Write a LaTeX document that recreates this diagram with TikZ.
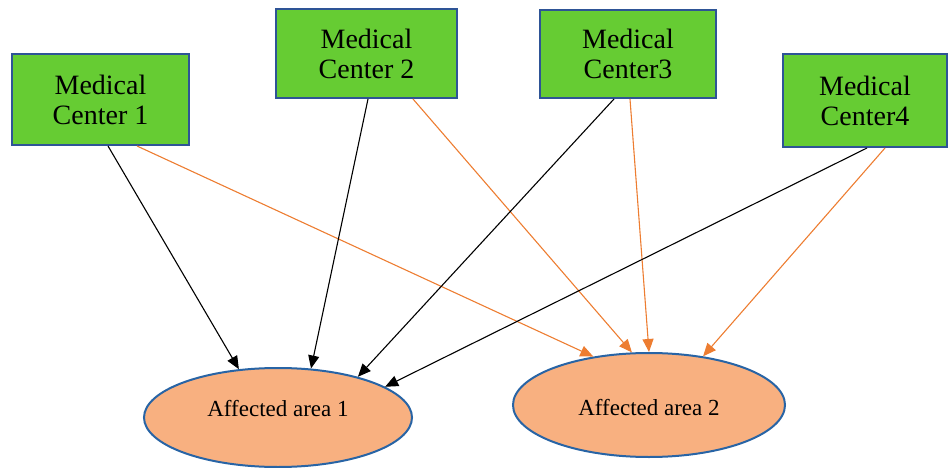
\documentclass[tikz,border=0pt]{standalone}
\usepackage{fontspec}
\setmainfont{Liberation Serif}
\usetikzlibrary{arrows.meta,shapes.geometric}
\definecolor{boxgreen}{RGB}{102,204,51}
\definecolor{boxblue}{RGB}{46,84,150}
\definecolor{ellfill}{RGB}{248,176,128}
\definecolor{ellblue}{RGB}{40,100,165}
\definecolor{arrorange}{RGB}{237,125,49}
\tikzset{
  center/.style={draw=boxblue, line width=2pt, fill=boxgreen, rectangle, inner sep=0pt,
    align=center, font=\fontsize{28}{30}\selectfont},
  area/.style={draw=ellblue, line width=2pt, fill=ellfill, ellipse, inner sep=0pt,
    font=\fontsize{23}{25}\selectfont},
  blk/.style={draw=black, line width=1.1pt, -{Triangle[length=13pt,width=11pt]}},
  org/.style={draw=arrorange, line width=1.1pt, -{Triangle[length=13pt,width=11pt]}, color=arrorange},
}
\begin{document}
\begin{tikzpicture}[x=1pt,y=-1pt]
\useasboundingbox (0,0) rectangle (951,468);
\node[center, minimum width=177pt, minimum height=91pt] (m1) at (100.5,99.5) {Medical\\Center 1};
\node[center, minimum width=181pt, minimum height=89pt] (m2) at (366.5,53.5) {Medical\\Center 2};
\node[center, minimum width=176pt, minimum height=88pt] (m3) at (628,54) {Medical\\Center3};
\node[center, minimum width=164pt, minimum height=93pt] (m4) at (865,100.5) {Medical\\Center4};
\node[area, minimum width=268pt, minimum height=99pt, text height=16pt, text depth=18pt] (a1) at (278,417.5) {Affected area 1};
\node[area, minimum width=272pt, minimum height=104pt, text height=22pt, text depth=0.5pt] (a2) at (649,405) {Affected area 2};
\draw[blk] ([xshift=7.5pt]m1.south) -- (a1.129.4);
\draw[org] ([xshift=36.5pt]m1.south) -- (a2.139.8);
\draw[blk] ([xshift=1.5pt]m2.south) -- (a1.56.4);
\draw[org] ([xshift=46.5pt]m2.south) -- (a2.108.2);
\draw[blk] ([xshift=-14pt]m3.south) -- (a1.27.7);
\draw[org] ([xshift=2pt]m3.south) -- (a2.north);
\draw[blk] ([xshift=2pt]m4.south) -- (a1.16.3);
\draw[org] ([xshift=20pt]m4.south) -- (a2.42.1);
\end{tikzpicture}
\end{document}
